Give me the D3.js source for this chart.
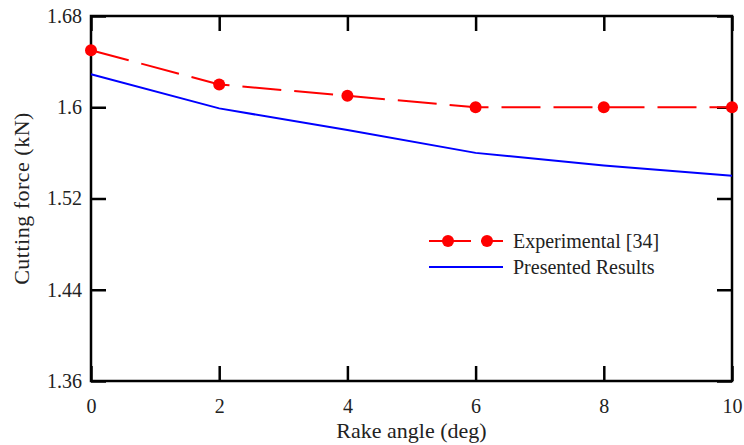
<!DOCTYPE html>
<html>
<head>
<meta charset="utf-8">
<script src="https://cdn.jsdelivr.net/npm/d3@7"></script>
<style>
  body { margin: 0; background: #fff; }
  text { font-family: "Liberation Serif", serif; }
</style>
</head>
<body>
<div id="my_dataviz"></div>
<script>
// data
var rakeAngle = [0, 2, 4, 6, 8, 10];
var experimental = [1.65, 1.62, 1.61, 1.60, 1.60, 1.60];
var presented = [1.629, 1.599, 1.580, 1.560, 1.549, 1.540];
var xTicks = [0, 2, 4, 6, 8, 10];
var yTicks = [1.36, 1.44, 1.52, 1.6, 1.68];
var seriesNames = ["Experimental [34]", "Presented Results"];

// set margin, width & height
var margin = {top: 16, right: 12, bottom: 64, left: 91},
    width = 744 - margin.left - margin.right,
    height = 445 - margin.top - margin.bottom;

var svg = d3.select("#my_dataviz")
    .append("svg")
    .attr("width", 744)
    .attr("height", 445)
    .append("g")
    .attr("transform", "translate(" + margin.left + "," + margin.top + ")");

var x = d3.scaleLinear().domain([0, 10]).range([0, width]);
var y = d3.scaleLinear().domain([1.36, 1.68]).range([height, 0]);

var fmt = function(d) { return String(+d.toFixed(2)); };

// axes, ticks pointing inward
var axStyle = function(g) {
    g.select(".domain").remove();
    g.selectAll("line").attr("stroke", "#000").attr("stroke-width", 2.5);
    g.selectAll("text").attr("fill", "#222").style("font-size", "20px");
};

svg.append("g")
    .attr("transform", "translate(0," + height + ")")
    .call(d3.axisBottom(x).tickValues(xTicks).tickSizeInner(-15).tickSizeOuter(0).tickPadding(18))
    .call(axStyle);

svg.append("g")
    .call(d3.axisLeft(y).tickValues(yTicks).tickFormat(fmt).tickSizeInner(-15).tickSizeOuter(0).tickPadding(9))
    .call(axStyle);

svg.append("g")
    .call(d3.axisTop(x).tickValues(xTicks).tickFormat("").tickSizeInner(-15).tickSizeOuter(0))
    .call(axStyle);

svg.append("g")
    .attr("transform", "translate(" + width + ",0)")
    .call(d3.axisRight(y).tickValues(yTicks).tickFormat("").tickSizeInner(-15).tickSizeOuter(0))
    .call(axStyle);

// frame
svg.append("rect")
    .attr("width", width)
    .attr("height", height)
    .attr("fill", "none")
    .attr("stroke", "#000")
    .attr("stroke-width", 2.5);

// lines
var line = function(vals) {
    return d3.line()
        .x(function(d, i) { return x(rakeAngle[i]); })
        .y(function(d) { return y(d); })(vals);
};

svg.append("path")
    .attr("d", line(presented))
    .attr("fill", "none")
    .attr("stroke", "#0000ff")
    .attr("stroke-width", 2);

svg.append("path")
    .attr("d", line(experimental))
    .attr("fill", "none")
    .attr("stroke", "#ff0000")
    .attr("stroke-width", 2)
    .attr("stroke-dasharray", "39,13");

svg.selectAll("circle.exp")
    .data(experimental)
    .enter()
    .append("circle")
    .attr("class", "exp")
    .attr("cx", function(d, i) { return x(rakeAngle[i]); })
    .attr("cy", function(d) { return y(d); })
    .attr("r", 6)
    .attr("fill", "#ff0000");

// legend
var leg = svg.append("g").attr("transform", "translate(338,225)");
leg.append("line").attr("x1", 0).attr("x2", 74).attr("y1", 0).attr("y2", 0)
    .attr("stroke", "#ff0000").attr("stroke-width", 2).attr("stroke-dasharray", "42,10");
leg.selectAll("circle").data([19, 58]).enter().append("circle")
    .attr("cx", function(d) { return d; }).attr("cy", 0).attr("r", 6).attr("fill", "#ff0000");
leg.append("line").attr("x1", 0).attr("x2", 74).attr("y1", 26).attr("y2", 26)
    .attr("stroke", "#0000ff").attr("stroke-width", 2);
leg.selectAll("text").data(seriesNames).enter().append("text")
    .attr("x", 84)
    .attr("y", function(d, i) { return 7 + i * 26; })
    .attr("fill", "#222")
    .style("font-size", "20px")
    .text(function(d) { return d; });

// axis titles
svg.append("text")
    .attr("x", width / 2)
    .attr("y", height + 57)
    .attr("text-anchor", "middle")
    .attr("fill", "#222")
    .style("font-size", "22px")
    .text("Rake angle (deg)");

svg.append("text")
    .attr("transform", "translate(-62," + (height / 2) + ")rotate(-90)")
    .attr("text-anchor", "middle")
    .attr("fill", "#222")
    .style("font-size", "22px")
    .style("letter-spacing", "0.5px")
    .text("Cutting force (kN)");
</script>
</body>
</html>
